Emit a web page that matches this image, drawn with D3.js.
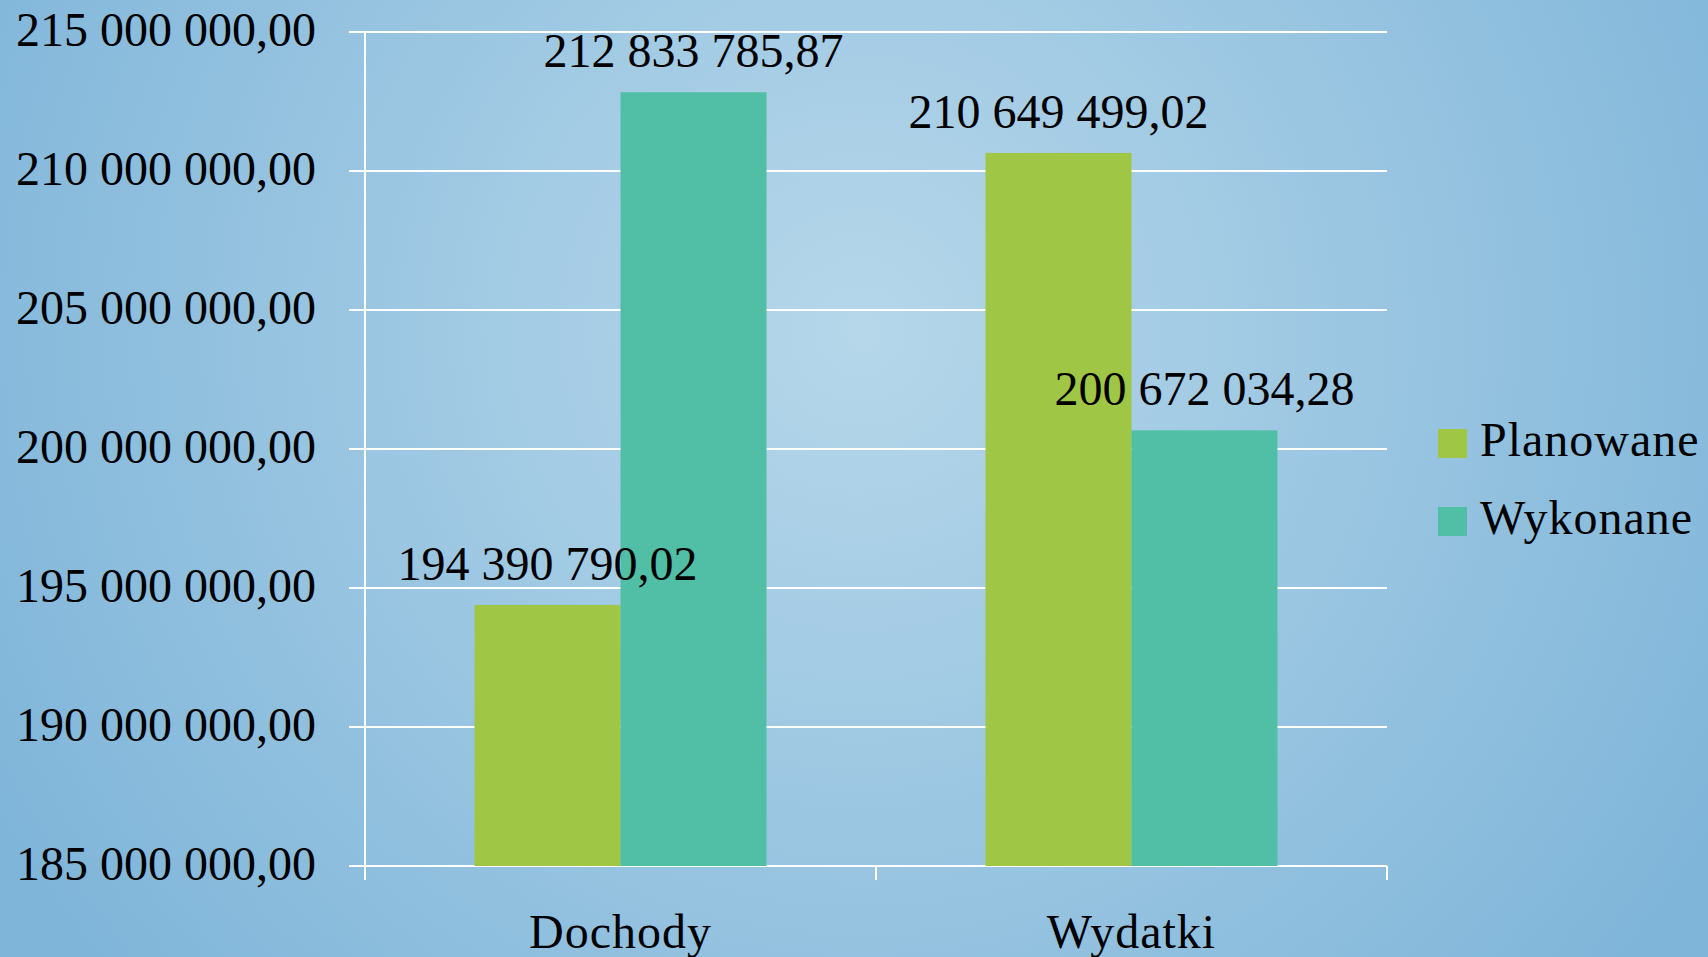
<!DOCTYPE html>
<meta charset="utf-8">
<head>
    <title>Dochody i wydatki</title>
    <script type="text/javascript" src="https://cdn.jsdelivr.net/npm/d3@7"></script>
    <style>
        body { margin: 0; overflow: hidden; }
        svg text { font-family: "Liberation Serif", "DejaVu Serif", serif; fill: #000; }
    </style>
</head>
<body>
<div id="chart"></div>
<script>
// data
var categories = ["Dochody", "Wydatki"];
var seriesNames = ["Planowane", "Wykonane"];
var planowane = [194390790.02, 210649499.02];
var wykonane = [212833785.87, 200672034.28];
var yTicks = [185000000, 190000000, 195000000, 200000000, 205000000, 210000000, 215000000];
var colors = ["#a0c645", "#50bfa5"];

var w = 1708, h = 957;
var svg = d3.select("#chart").append("svg")
    .attr("width", w).attr("height", h);

// background
var defs = svg.append("defs");
var grad = defs.append("radialGradient")
    .attr("id", "bg")
    .attr("gradientUnits", "userSpaceOnUse")
    .attr("cx", 860).attr("cy", 330).attr("r", 1000);
grad.append("stop").attr("offset", "0%").attr("stop-color", "#b6d7ea");
grad.append("stop").attr("offset", "100%").attr("stop-color", "#7fb5d9");
svg.append("rect").attr("width", w).attr("height", h).attr("fill", "url(#bg)");

var plotL = 365, plotR = 1387, plotT = 32, plotB = 866;

var y = d3.scaleLinear().domain([185000000, 215000000]).range([plotB, plotT]);
var x0 = d3.scaleBand().domain(categories).range([plotL, plotR]).paddingInner(0).paddingOuter(0);
var x1 = d3.scaleBand().domain(seriesNames).range([0, x0.bandwidth()]).paddingOuter(0.75).paddingInner(0);

var fmt = function (v) {
    var s = v.toFixed(2).split(".");
    return s[0].replace(/\B(?=(\d{3})+(?!\d))/g, " ") + "," + s[1];
};

// gridlines
svg.append("g").selectAll("line")
    .data(yTicks)
    .enter().append("line")
    .attr("x1", 349).attr("x2", plotR)
    .attr("y1", d => y(d)).attr("y2", d => y(d))
    .attr("stroke", "#fff").attr("stroke-width", 2);

// y labels
svg.append("g").selectAll("text")
    .data(yTicks)
    .enter().append("text")
    .attr("x", 316)
    .attr("y", d => y(d) + 14)
    .attr("text-anchor", "end")
    .style("font-size", "48px")
    .text(fmt);

// bars
var rows = categories.map((c, i) => ({ cat: c, vals: [planowane[i], wykonane[i]] }));
var groups = svg.append("g").selectAll("g")
    .data(rows)
    .enter().append("g")
    .attr("transform", d => "translate(" + x0(d.cat) + ",0)");

groups.selectAll("rect")
    .data(d => d.vals.map((v, j) => ({ s: seriesNames[j], v: v, j: j })))
    .enter().append("rect")
    .attr("x", d => x1(d.s))
    .attr("width", x1.bandwidth())
    .attr("y", d => y(d.v))
    .attr("height", d => plotB - y(d.v))
    .attr("fill", d => colors[d.j]);

groups.selectAll("text")
    .data(d => d.vals.map((v, j) => ({ s: seriesNames[j], v: v, j: j })))
    .enter().append("text")
    .attr("x", d => x1(d.s) + x1.bandwidth() / 2)
    .attr("y", d => y(d.v) - 25)
    .attr("text-anchor", "middle")
    .style("font-size", "48px")
    .text(d => fmt(d.v));

// axes lines
svg.append("line")
    .attr("x1", plotL).attr("x2", plotL)
    .attr("y1", plotT).attr("y2", 880)
    .attr("stroke", "#fff").attr("stroke-width", 2);
svg.append("g").selectAll("line")
    .data([plotL, plotL + x0.bandwidth(), plotR])
    .enter().append("line")
    .attr("x1", d => d).attr("x2", d => d)
    .attr("y1", plotB).attr("y2", 880)
    .attr("stroke", "#fff").attr("stroke-width", 2);

// category labels
svg.append("g").selectAll("text")
    .data(categories)
    .enter().append("text")
    .attr("x", d => x0(d) + x0.bandwidth() / 2)
    .attr("y", 948)
    .attr("text-anchor", "middle")
    .style("font-size", "48px")
    .style("letter-spacing", "1px")
    .text(d => d);

// legend
var legend = svg.append("g").selectAll("g")
    .data(seriesNames)
    .enter().append("g")
    .attr("transform", (d, i) => "translate(1438," + (429 + i * 78) + ")");
legend.append("rect")
    .attr("width", 29).attr("height", 29)
    .attr("fill", (d, i) => colors[i]);
legend.append("text")
    .attr("x", 42).attr("y", 27)
    .style("font-size", "48px")
    .style("letter-spacing", "1px")
    .text(d => d);
</script>
</body>
</html>
